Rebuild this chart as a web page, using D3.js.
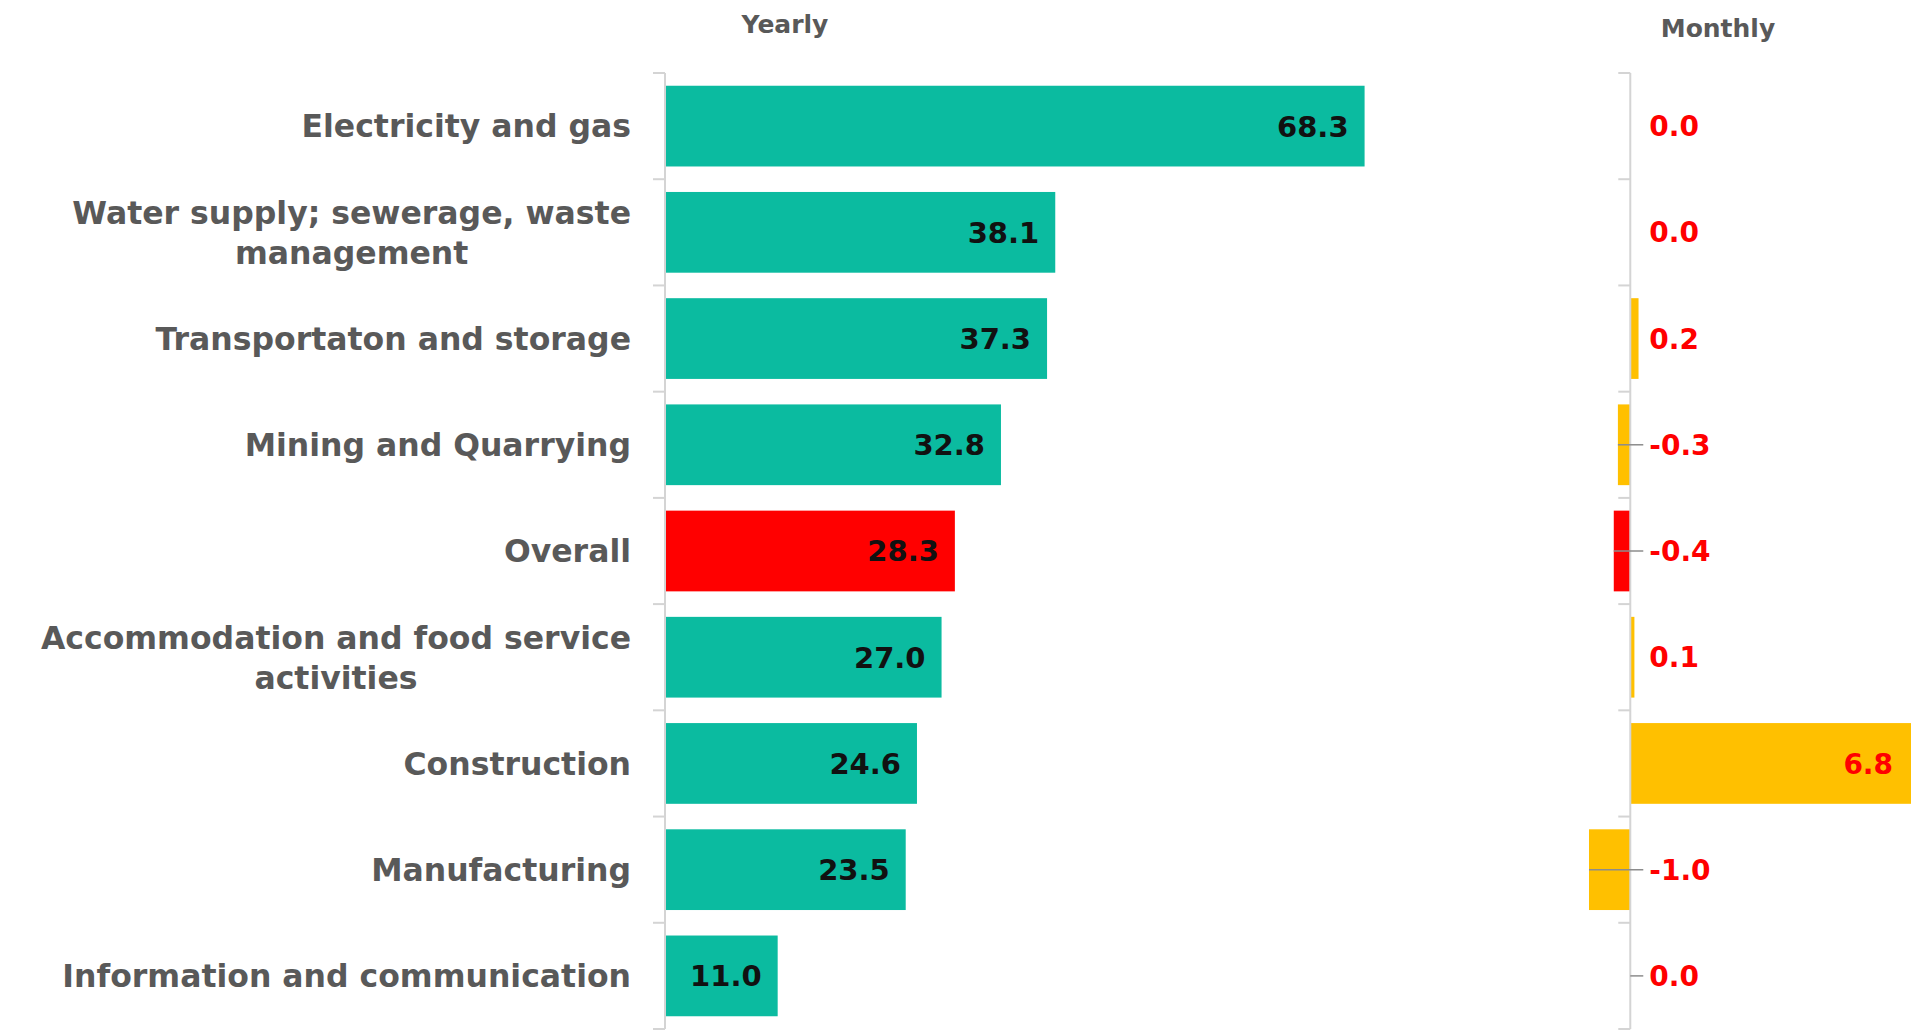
<!DOCTYPE html>
<html>
<head>
<meta charset="utf-8">
<script src="https://cdn.jsdelivr.net/npm/d3@7"></script>
<style>
  body { margin: 0; background: #fff; }
  text { font-family: "DejaVu Sans", sans-serif; font-weight: bold; }
</style>
</head>
<body>
<div class="container"></div>
<script>
var width = 1914, height = 1033;

// data
var categories = [
  "Electricity and gas",
  "Water supply; sewerage, waste\nmanagement",
  "Transportaton and storage",
  "Mining and Quarrying",
  "Overall",
  "Accommodation and food service\nactivities",
  "Construction",
  "Manufacturing",
  "Information and communication"
];
var yearly  = [68.3, 38.1, 37.3, 32.8, 28.3, 27.0, 24.6, 23.5, 11.0];
var monthly = [0.0, 0.0, 0.2, -0.3, -0.4, 0.1, 6.8, -1.0, 0.0];
var highlight = "Overall";
var leaderRows = ["Mining and Quarrying", "Overall", "Manufacturing", "Information and communication"];

var teal = "#0bbba0", red = "#ff0000", gold = "#ffc000";
var axisGray = "#d4d4d4", labelGray = "#595959";

var svg = d3.select("div.container").append("svg")
    .attr("width", width)
    .attr("height", height);

// shared category scale (one band per category, bars take 76% of a band)
var y_scale = d3.scaleBand()
    .domain(categories)
    .range([73, 1029])
    .paddingInner(0.24)
    .paddingOuter(0.12);
var band = y_scale.step();
var barH = y_scale.bandwidth();
var yc = function (i) { return y_scale(categories[i]) + barH / 2; };
var yEdge = function (i) { return y_scale(categories[Math.min(i, categories.length - 1)]) - band * 0.12 + (i === categories.length ? band : 0); };

var x_year = d3.scaleLinear().domain([0, 70]).range([665, 1382]);
var x_month = d3.scaleLinear().domain([-1, 6.8]).range([1589, 1911]);

// ---- yearly panel
svg.append("g").selectAll("rect")
    .data(yearly)
    .enter().append("rect")
    .attr("x", x_year(0))
    .attr("y", function (d, i) { return y_scale(categories[i]); })
    .attr("width", function (d) { return x_year(d) - x_year(0); })
    .attr("height", barH)
    .attr("fill", function (d, i) { return categories[i] === highlight ? red : teal; });

svg.append("g").selectAll("text")
    .data(yearly)
    .enter().append("text")
    .attr("x", function (d) { return x_year(d) - 16; })
    .attr("y", function (d, i) { return yc(i); })
    .attr("dy", "0.36em")
    .attr("text-anchor", "end")
    .attr("font-size", 29)
    .attr("fill", "#111")
    .text(function (d) { return d.toFixed(1); });

// category axis (left)
var axisL = svg.append("g");
axisL.append("line")
    .attr("x1", x_year(0)).attr("x2", x_year(0))
    .attr("y1", 73).attr("y2", 1029)
    .attr("stroke", axisGray).attr("stroke-width", 2);
axisL.selectAll("line.tick")
    .data(d3.range(categories.length + 1))
    .enter().append("line")
    .attr("class", "tick")
    .attr("x1", x_year(0) - 12).attr("x2", x_year(0))
    .attr("y1", function (i) { return 73 + band * i; })
    .attr("y2", function (i) { return 73 + band * i; })
    .attr("stroke", axisGray).attr("stroke-width", 2);

// category labels, multi-line centred on each other, block right-aligned
var labelRight = 631;
categories.forEach(function (c, i) {
  var lines = c.split("\n");
  var g = svg.append("g");
  var lh = 40;
  var t = g.selectAll("text").data(lines).enter().append("text")
      .attr("font-size", 31.5)
      .attr("fill", labelGray)
      .attr("y", function (d, j) { return yc(i) + (j - (lines.length - 1) / 2) * lh; })
      .attr("dy", "0.36em")
      .text(function (d) { return d; });
  var widths = [];
  t.each(function () { widths.push(this.getComputedTextLength()); });
  var maxW = d3.max(widths);
  t.attr("text-anchor", "middle").attr("x", labelRight - maxW / 2);
});

// ---- monthly panel
svg.append("g").selectAll("rect")
    .data(monthly)
    .enter().append("rect")
    .attr("x", function (d) { return x_month(Math.min(0, d)); })
    .attr("y", function (d, i) { return y_scale(categories[i]); })
    .attr("width", function (d) { return Math.abs(x_month(d) - x_month(0)); })
    .attr("height", barH)
    .attr("fill", function (d, i) { return categories[i] === highlight ? red : gold; });

var axisR = svg.append("g");
axisR.append("line")
    .attr("x1", x_month(0)).attr("x2", x_month(0))
    .attr("y1", 73).attr("y2", 1029)
    .attr("stroke", axisGray).attr("stroke-width", 2);
axisR.selectAll("line.tick")
    .data(d3.range(categories.length + 1))
    .enter().append("line")
    .attr("class", "tick")
    .attr("x1", x_month(0) - 12).attr("x2", x_month(0))
    .attr("y1", function (i) { return 73 + band * i; })
    .attr("y2", function (i) { return 73 + band * i; })
    .attr("stroke", axisGray).attr("stroke-width", 2);

// leader lines for the labels pushed off the bar
svg.append("g").selectAll("line")
    .data(monthly.map(function (d, i) { return [d, i]; })
      .filter(function (p) { return leaderRows.indexOf(categories[p[1]]) >= 0; }))
    .enter().append("line")
    .attr("x1", function (p) { return x_month(Math.min(0, p[0])); })
    .attr("x2", x_month(0) + 13)
    .attr("y1", function (p) { return yc(p[1]); })
    .attr("y2", function (p) { return yc(p[1]); })
    .attr("stroke", "#8c8c8c").attr("stroke-width", 1.5);

svg.append("g").selectAll("text")
    .data(monthly)
    .enter().append("text")
    .attr("x", function (d) { return d > 1 ? x_month(d) - 18 : x_month(0) + 19; })
    .attr("y", function (d, i) { return yc(i); })
    .attr("dy", "0.36em")
    .attr("text-anchor", function (d) { return d > 1 ? "end" : "start"; })
    .attr("font-size", 28)
    .attr("fill", red)
    .text(function (d) { return d.toFixed(1); });

// panel titles
svg.append("text")
    .attr("x", 785).attr("y", 33)
    .attr("text-anchor", "middle")
    .attr("font-size", 25)
    .attr("fill", labelGray)
    .text("Yearly");
svg.append("text")
    .attr("x", 1718).attr("y", 37)
    .attr("text-anchor", "middle")
    .attr("font-size", 25)
    .attr("fill", labelGray)
    .text("Monthly");
</script>
</body>
</html>
